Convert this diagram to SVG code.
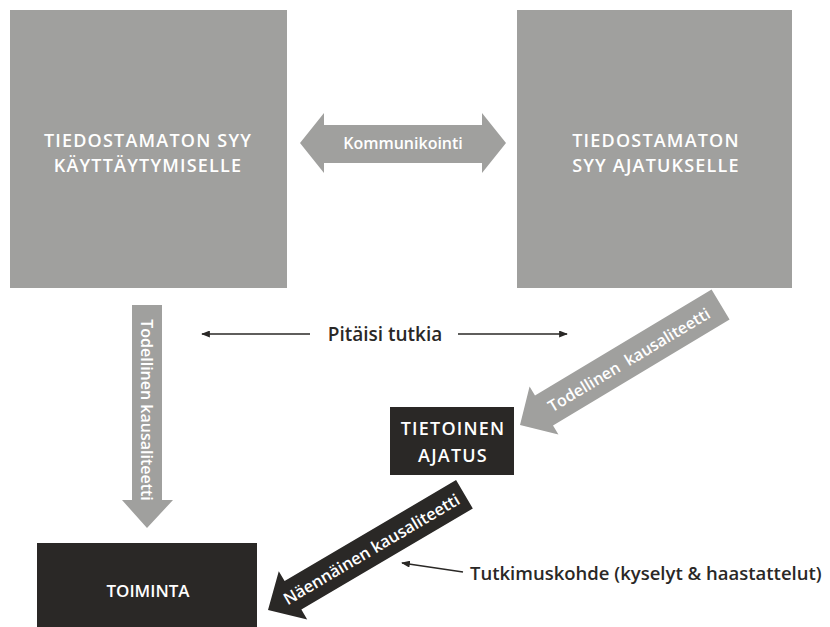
<svg xmlns="http://www.w3.org/2000/svg" width="830" height="627" viewBox="0 0 830 627">
<style>
.gray{fill:#a0a09e}
.dark{fill:#2a2826}
.wt{fill:#ffffff;font-family:"Open Sans","Liberation Sans",sans-serif;font-weight:600;text-anchor:middle}
.cap{font-size:18px;letter-spacing:1.2px}
.bt{fill:#2a2826;font-family:"Open Sans","Liberation Sans",sans-serif;font-weight:600}
.thin{stroke:#2a2826;stroke-width:1.3;fill:none}
</style>
<defs>
<marker id="ah" viewBox="0 0 10 8" refX="9" refY="4" markerWidth="9" markerHeight="7" markerUnits="userSpaceOnUse" orient="auto">
<path d="M0,0 L10,4 L0,8 Z" fill="#2a2826"/>
</marker>
</defs>
<rect width="830" height="627" fill="#ffffff"/>

<g id="node-unconscious-behavior">
<rect class="gray" x="10" y="10" width="277" height="278"/>
<text class="wt cap" x="148" y="147">TIEDOSTAMATON SYY</text>
<text class="wt cap" x="148" y="172">KÄYTTÄYTYMISELLE</text>
</g>

<g id="node-unconscious-thought">
<rect class="gray" x="517" y="10" width="275" height="278"/>
<text class="wt cap" x="656" y="147">TIEDOSTAMATON</text>
<text class="wt cap" x="656" y="172">SYY AJATUKSELLE</text>
</g>

<g id="node-conscious-thought">
<rect class="dark" x="390" y="407" width="124" height="68"/>
<text class="wt cap" x="453" y="435">TIETOINEN</text>
<text class="wt cap" x="453" y="462">AJATUS</text>
</g>

<g id="node-action">
<rect class="dark" x="37" y="543" width="220" height="90"/>
<text class="wt" font-size="17" x="148" y="597">TOIMINTA</text>
</g>

<g id="connectors">
<g id="arrow-communication">
<polygon class="gray" points="300,143 324,113 324,125 482,125 482,113 506,143 482,173 482,163 324,163 324,173"/>
<text class="wt" font-size="16" x="403" y="149">Kommunikointi</text>
</g>
<g id="arrow-behavior-action">
<polygon class="gray" points="132,305 162,305 162,500 173,500 147,528 122,500 132,500"/>
<text class="wt" font-size="16" font-weight="400" transform="translate(141,410) rotate(90)">Todellinen kausaliteetti</text>
</g>
<g id="arrow-thought-conscious" transform="translate(520,425) rotate(-31)">
<polygon class="gray" points="0,0 28,-28 28,-17.5 234,-17.5 234,17.5 28,17.5 28,28"/>
<text class="wt" font-size="16" x="127" y="6" xml:space="preserve">Todellinen  kausaliteetti</text>
</g>
<g id="arrow-conscious-action" transform="translate(268,610) rotate(-30.5)">
<polygon class="dark" points="0,0 29,-28 29,-16.5 228,-16.5 228,16.5 29,16.5 29,28"/>
<text class="wt" font-size="16.5" font-weight="700" x="120" y="6">Näennäinen kausaliteetti</text>
</g>
<g id="label-should-study">
<line class="thin" x1="310" y1="334" x2="202" y2="334" marker-end="url(#ah)"/>
<line class="thin" x1="458" y1="334" x2="567" y2="334" marker-end="url(#ah)"/>
<text class="bt" font-size="19" x="385" y="341" text-anchor="middle">Pitäisi tutkia</text>
</g>
<g id="label-research-object">
<line class="thin" x1="463" y1="572" x2="402" y2="563" marker-end="url(#ah)"/>
<text class="bt" font-size="18.5" x="470" y="580">Tutkimuskohde (kyselyt &amp; haastattelut)</text>
</g>
</g>
</svg>
